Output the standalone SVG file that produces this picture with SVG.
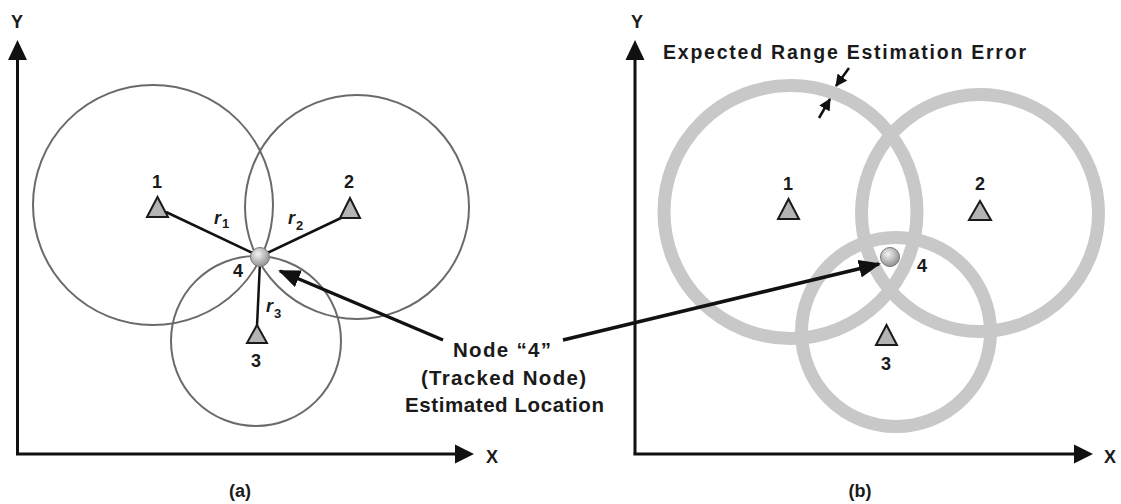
<svg xmlns="http://www.w3.org/2000/svg" width="1121" height="504" viewBox="0 0 1121 504">
<style>
text{font-family:"Liberation Sans",Arial,sans-serif;font-weight:bold;fill:#1a1a1a}
.lbl{font-size:18px;text-anchor:middle}
.r{font-size:18px;font-style:italic}
.sub{font-size:13px;font-style:normal}
.thin{fill:none;stroke:#6a6a6a;stroke-width:2}
.ring{fill:none;stroke:#c8c8c8;stroke-width:13}
.axis{stroke:#111;stroke-width:3;fill:none}
.ray{stroke:#111;stroke-width:2.5}
.tri{fill:#b4b4b4;stroke:#1a1a1a;stroke-width:2;stroke-linejoin:miter}
.conn{stroke:#111;stroke-width:3.5;fill:none}
.small{stroke:#111;stroke-width:2.5;fill:none}
.sph{fill:url(#sg);stroke:#777;stroke-width:1}
</style>
<defs>
<radialGradient id="sg" cx="0.4" cy="0.35" r="0.7">
<stop offset="0" stop-color="#f4f4f4"/>
<stop offset="1" stop-color="#8a8a8a"/>
</radialGradient>
<marker id="ah" markerUnits="userSpaceOnUse" markerWidth="22" markerHeight="18" refX="20" refY="9" orient="auto">
<path d="M0,0 L22,9 L0,18 Z" fill="#111"/>
</marker>
<marker id="ahs" markerUnits="userSpaceOnUse" markerWidth="12" markerHeight="12" refX="11" refY="6" orient="auto">
<path d="M0,0 L12,6 L0,12 Z" fill="#111"/>
</marker>
</defs>

<g id="panel-a-axes">
<line class="axis" x1="17.5" y1="454" x2="17.5" y2="58"/>
<path d="M17.5,40 L27,60 L8,60 Z" fill="#111"/>
<line class="axis" x1="16" y1="454" x2="456" y2="454"/>
<path d="M474,454 L455,444.5 L455,463.5 Z" fill="#111"/>
<text class="lbl" x="17" y="28">Y</text>
<text class="lbl" x="492" y="463">X</text>
<text class="lbl" x="240" y="497">(a)</text>
</g>

<g id="panel-a-circles">
<circle class="thin" cx="153" cy="205" r="120"/>
<circle class="thin" cx="357" cy="207" r="112"/>
<circle class="thin" cx="256" cy="341" r="85"/>
</g>

<g id="panel-a-rays">
<line class="ray" x1="166" y1="212" x2="259" y2="256"/>
<line class="ray" x1="341" y1="218" x2="261" y2="256"/>
<line class="ray" x1="257" y1="326" x2="260" y2="262"/>
<text class="r" x="214" y="224">r<tspan class="sub" dx="1" dy="4">1</tspan></text>
<text class="r" x="288" y="224">r<tspan class="sub" dx="1" dy="6">2</tspan></text>
<text class="r" x="266" y="312">r<tspan class="sub" dx="1" dy="6">3</tspan></text>
</g>

<g id="a-node1">
<polygon class="tri" points="157.5,197 147,217 168,217"/>
<text class="lbl" x="157" y="188">1</text>
</g>
<g id="a-node2">
<polygon class="tri" points="350,198 340,218 360,218"/>
<text class="lbl" x="349" y="188">2</text>
</g>
<g id="a-node3">
<polygon class="tri" points="257,325 247,343 267,343"/>
<text class="lbl" x="256" y="367">3</text>
</g>
<g id="a-node4">
<circle class="sph" cx="260" cy="257" r="9.5"/>
<text class="lbl" x="238" y="277">4</text>
</g>

<g id="panel-b-axes">
<line class="axis" x1="635" y1="454" x2="635" y2="58"/>
<path d="M635,40 L644.5,60 L625.5,60 Z" fill="#111"/>
<line class="axis" x1="633.5" y1="454" x2="1075" y2="454"/>
<path d="M1093,454 L1074,444.5 L1074,463.5 Z" fill="#111"/>
<text class="lbl" x="637" y="28">Y</text>
<text class="lbl" x="1110" y="463">X</text>
<text class="lbl" x="860" y="497">(b)</text>
</g>

<g id="panel-b-rings">
<circle class="ring" cx="790.5" cy="212" r="126.5"/>
<circle class="ring" cx="980" cy="213" r="118.5"/>
<circle class="ring" cx="896" cy="332" r="94.5"/>
</g>

<g id="b-node1">
<polygon class="tri" points="788.5,199 778,219 799,219"/>
<text class="lbl" x="788" y="190">1</text>
</g>
<g id="b-node2">
<polygon class="tri" points="980,201 969,220 991,220"/>
<text class="lbl" x="980" y="190">2</text>
</g>
<g id="b-node3">
<polygon class="tri" points="886.5,325 876,345 897,345"/>
<text class="lbl" x="886" y="370">3</text>
</g>
<g id="b-node4">
<circle class="sph" cx="890" cy="257" r="9.5"/>
<text class="lbl" x="922" y="272">4</text>
</g>

<g id="error-label">
<text x="663" y="59" font-size="19.5" textLength="363" lengthAdjust="spacing">Expected Range Estimation Error</text>
</g>

<g id="tracked-label">
<text x="453" y="357" font-size="20.5" textLength="98" lengthAdjust="spacing">Node “4”</text>
<text x="421" y="385" font-size="20.5" textLength="165" lengthAdjust="spacing">(Tracked Node)</text>
<text x="405" y="412" font-size="20.5" textLength="199" lengthAdjust="spacing">Estimated Location</text>
</g>

<g id="connectors">
<line class="conn" x1="443" y1="340" x2="280" y2="271" marker-end="url(#ah)"/>
<line class="conn" x1="563" y1="340" x2="879" y2="264" marker-end="url(#ah)"/>
<line class="small" x1="849" y1="68" x2="836" y2="86" marker-end="url(#ahs)"/>
<line class="small" x1="819" y1="118" x2="830" y2="99" marker-end="url(#ahs)"/>
</g>
</svg>
